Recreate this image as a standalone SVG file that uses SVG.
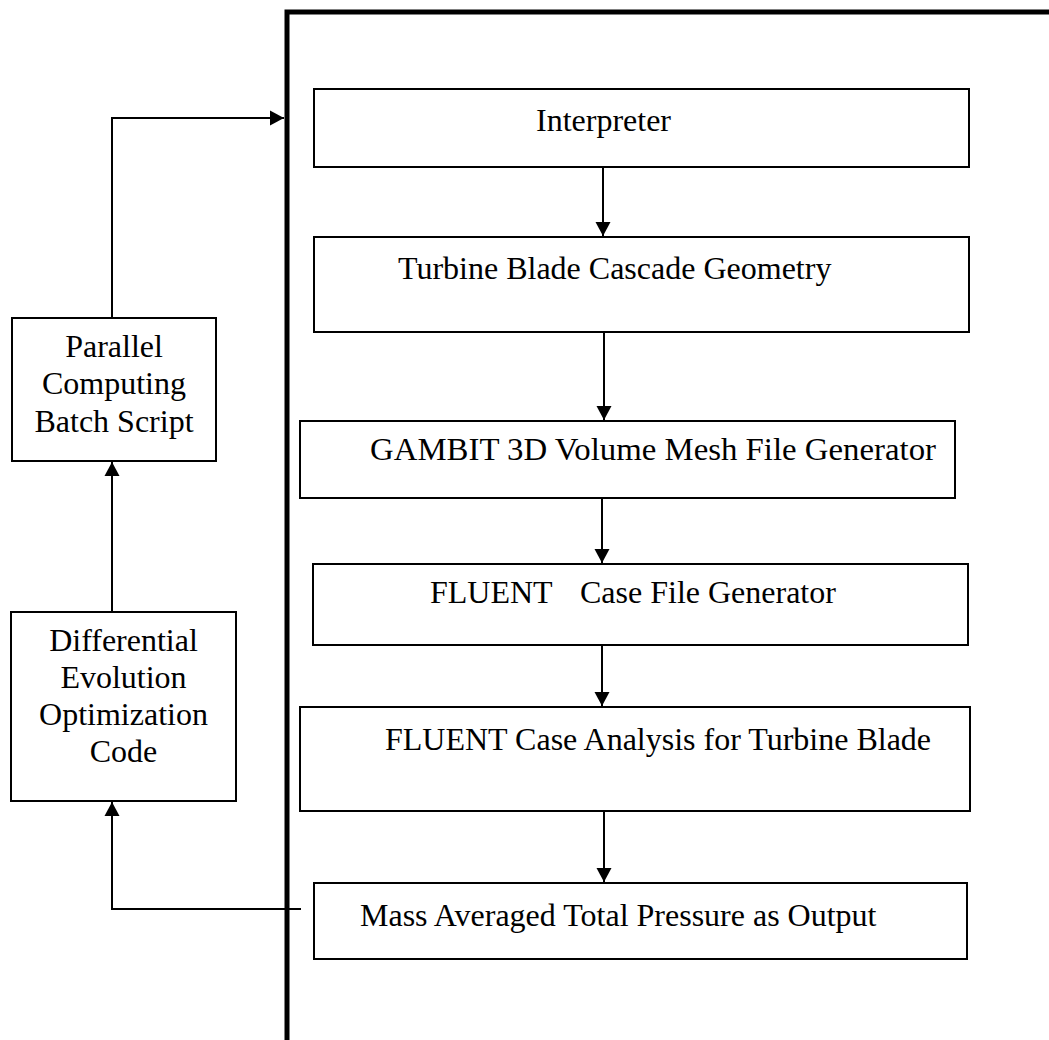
<svg xmlns="http://www.w3.org/2000/svg" width="1049" height="1040" viewBox="0 0 1049 1040">
<style>
.box{fill:#fff;stroke:#000;stroke-width:2}
.t{font-family:"Liberation Serif","Times New Roman",serif;font-size:32px;fill:#000}
.c{text-anchor:middle}
.ln{fill:none;stroke:#000;stroke-width:2}
</style>
<defs>
<marker id="ah" markerUnits="userSpaceOnUse" markerWidth="16" markerHeight="16" viewBox="0 0 16 16" refX="14" refY="8" orient="auto">
<path d="M0,0.5 L14,8 L0,15.5 Z" fill="#000"/>
</marker>
</defs>
<rect width="1049" height="1040" fill="#fff"/>
<g id="frame">
<path d="M287,1040 V12 H1049" fill="none" stroke="#000" stroke-width="5"/>
</g>
<g id="connectors">
<path class="ln" d="M112,318 V118 H284" marker-end="url(#ah)"/>
<path class="ln" d="M603,167 V236" marker-end="url(#ah)"/>
<path class="ln" d="M604,332 V420" marker-end="url(#ah)"/>
<path class="ln" d="M602,498 V563" marker-end="url(#ah)"/>
<path class="ln" d="M602,645 V706" marker-end="url(#ah)"/>
<path class="ln" d="M604,811 V882" marker-end="url(#ah)"/>
<path class="ln" d="M301,909 H112 V802" marker-end="url(#ah)"/>
<path class="ln" d="M112,612 V462" marker-end="url(#ah)"/>
</g>
<g id="interpreter">
<rect class="box" x="314" y="89" width="655" height="78"/>
<text class="t" x="536" y="131">Interpreter</text>
</g>
<g id="geometry">
<rect class="box" x="314" y="237" width="655" height="95"/>
<text class="t" x="398" y="279">Turbine Blade Cascade Geometry</text>
</g>
<g id="gambit">
<rect class="box" x="300" y="421" width="655" height="77"/>
<text class="t" x="370" y="460" textLength="566" lengthAdjust="spacingAndGlyphs">GAMBIT 3D Volume Mesh File Generator</text>
</g>
<g id="casefile">
<rect class="box" x="313" y="564" width="655" height="81"/>
<text class="t" x="430" y="603">FLUENT</text>
<text class="t" x="580" y="603">Case File Generator</text>
</g>
<g id="analysis">
<rect class="box" x="300" y="707" width="670" height="104"/>
<text class="t" x="385" y="750">FLUENT Case Analysis for Turbine Blade</text>
</g>
<g id="output">
<rect class="box" x="314" y="883" width="653" height="76"/>
<text class="t" x="360" y="926">Mass Averaged Total Pressure as Output</text>
</g>
<g id="batch">
<rect class="box" x="12" y="318" width="204" height="143"/>
<text class="t c" x="114" y="357">Parallel</text>
<text class="t c" x="114" y="394">Computing</text>
<text class="t c" x="114" y="432">Batch Script</text>
</g>
<g id="de">
<rect class="box" x="11" y="612" width="225" height="189"/>
<text class="t c" x="123.5" y="651">Differential</text>
<text class="t c" x="123.5" y="688">Evolution</text>
<text class="t c" x="123.5" y="725">Optimization</text>
<text class="t c" x="123.5" y="762">Code</text>
</g>
</svg>
